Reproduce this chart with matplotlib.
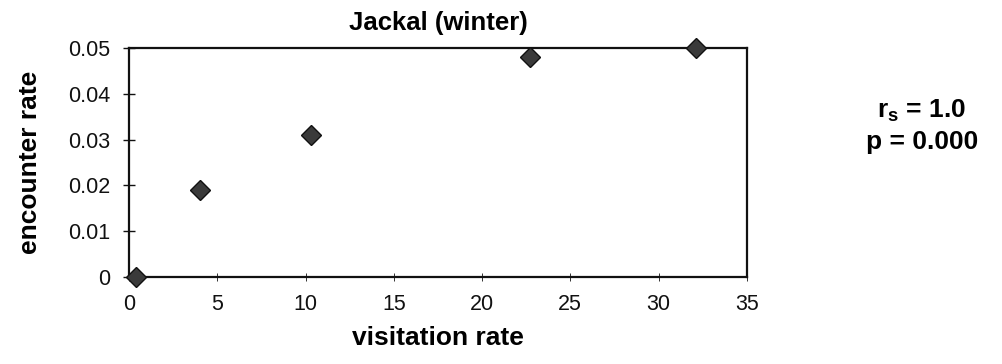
import matplotlib
matplotlib.use('Agg')
import matplotlib.pyplot as plt

# data
visitation_rate = [0.4, 4.0, 10.3, 22.7, 32.1]
encounter_rate = [0.0, 0.019, 0.031, 0.048, 0.050]
x_ticks = [0, 5, 10, 15, 20, 25, 30, 35]
y_ticks = [0, 0.01, 0.02, 0.03, 0.04, 0.05]
y_tick_labels = ['0', '0.01', '0.02', '0.03', '0.04', '0.05']

plt.rcParams['font.family'] = ['Liberation Sans', 'DejaVu Sans']
plt.rcParams['mathtext.fontset'] = 'custom'
plt.rcParams['mathtext.bf'] = 'Liberation Sans:bold'
plt.rcParams['mathtext.rm'] = 'Liberation Sans'

fig = plt.figure(figsize=(10.03, 3.64), dpi=100)
ax = fig.add_axes([0.1286, 0.239, 0.616, 0.629])

ax.plot(visitation_rate, encounter_rate, linestyle='none', marker='D',
        markersize=10, markerfacecolor='#3a3a3a', markeredgecolor='#111111',
        clip_on=False, zorder=3)

ax.set_xlim(0, 35)
ax.set_ylim(0, 0.05)
ax.set_xticks(x_ticks)
ax.set_yticks(y_ticks)
ax.set_yticklabels(y_tick_labels)
ax.tick_params(axis='both', direction='inout', labelsize=15.5, colors='#111111')
ax.tick_params(axis='y', length=9, width=1.0, pad=9)
ax.tick_params(axis='x', length=6, width=0.6, pad=9)

for s in ax.spines.values():
    s.set_linewidth(1.6)
    s.set_color('#111111')

ax.set_title('Jackal (winter)', fontsize=18.5, fontweight='bold', pad=13)
ax.set_xlabel('visitation rate', fontsize=19, fontweight='bold', labelpad=8)
ax.set_ylabel('encounter rate', fontsize=19, fontweight='bold', labelpad=19)

fig.text(0.919, 1 - 111 / 364, r'$\mathbf{r_s}$ = 1.0', ha='center', va='center',
         fontsize=19, fontweight='bold')
fig.text(0.919, 1 - 142 / 364, 'p = 0.000', ha='center', va='center',
         fontsize=19, fontweight='bold')

fig.savefig('out.png', dpi=100, facecolor='white')
